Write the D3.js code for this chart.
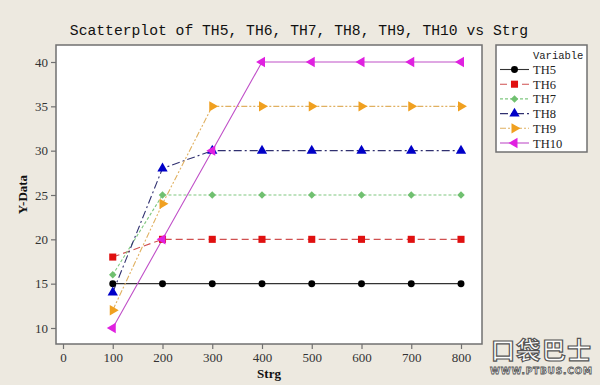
<!DOCTYPE html>
<html>
<head>
<meta charset="utf-8">
<script src="https://cdn.jsdelivr.net/npm/d3@7"></script>
<style>
  body { margin: 0; background: #ede9e0; }
  svg { display: block; }
</style>
</head>
<body>
<div id="chart"></div>
<script>
// data
const strg = [100, 200, 300, 400, 500, 600, 700, 800];
const th5  = [15, 15, 15, 15, 15, 15, 15, 15];
const th6  = [18, 20, 20, 20, 20, 20, 20, 20];
const th7  = [16, 25, 25, 25, 25, 25, 25, 25];
const th8  = [14, 28, 30, 30, 30, 30, 30, 30];
const th9  = [12, 24, 35, 35, 35, 35, 35, 35];
const th10 = [10, 20, 30, 40, 40, 40, 40, 40];
const xTicks = [0, 100, 200, 300, 400, 500, 600, 700, 800];
const yTicks = [10, 15, 20, 25, 30, 35, 40];

const series = [
    { name: "TH5",  values: th5,  color: "#000000", line: "#333333", dash: null,          symbol: "circle" },
    { name: "TH6",  values: th6,  color: "#e01010", line: "#d05050", dash: "7,4",         symbol: "square" },
    { name: "TH7",  values: th7,  color: "#70c070", line: "#80c880", dash: "3,2",         symbol: "diamond" },
    { name: "TH8",  values: th8,  color: "#0000c8", line: "#303070", dash: "8,3,2,3",     symbol: "up" },
    { name: "TH9",  values: th9,  color: "#f0a020", line: "#e0b060", dash: "6,2,2,2,2,2", symbol: "right" },
    { name: "TH10", values: th10, color: "#e020e0", line: "#c050c8", dash: null,          symbol: "left" }
];

const W = 600, H = 385;
const frame = { left: 56, top: 45, right: 482, bottom: 344 };

const svg = d3.select("#chart").append("svg")
    .attr("width", W)
    .attr("height", H);

svg.append("rect").attr("width", W).attr("height", H).attr("fill", "#ede9e0");

// scales
const x = d3.scaleLinear().domain([0, 800]).range([63, 461]);
const y = d3.scaleLinear().domain([10, 40]).range([328, 62]);

// title
svg.append("text")
    .attr("x", 299)
    .attr("y", 35)
    .attr("text-anchor", "middle")
    .style("font-family", "'Liberation Mono', monospace")
    .style("font-size", "14.7px")
    .attr("fill", "#111")
    .text("Scatterplot of TH5, TH6, TH7, TH8, TH9, TH10 vs Strg");

// plot area
svg.append("rect")
    .attr("x", frame.left)
    .attr("y", frame.top)
    .attr("width", frame.right - frame.left)
    .attr("height", frame.bottom - frame.top)
    .attr("fill", "#fff")
    .attr("stroke", "#707070")
    .attr("stroke-width", 1.5);

// axes
const xAxis = svg.append("g")
    .attr("transform", `translate(0,${frame.bottom})`)
    .call(d3.axisBottom(x).tickValues(xTicks).tickSize(5).tickPadding(4));
const yAxis = svg.append("g")
    .attr("transform", `translate(${frame.left},0)`)
    .call(d3.axisLeft(y).tickValues(yTicks).tickSize(5).tickPadding(3));

[xAxis, yAxis].forEach(g => {
    g.select(".domain").remove();
    g.selectAll("line").attr("stroke", "#707070").attr("stroke-width", 1.2);
    g.selectAll("text")
        .style("font-family", "'Liberation Serif', serif")
        .style("font-size", "13px")
        .attr("fill", "#333");
});

// axis labels
svg.append("text")
    .attr("x", 269)
    .attr("y", 378)
    .attr("text-anchor", "middle")
    .style("font-family", "'Liberation Serif', serif")
    .style("font-weight", "bold")
    .style("font-size", "13px")
    .attr("fill", "#111")
    .text("Strg");

svg.append("text")
    .attr("transform", `translate(27,${(frame.top + frame.bottom) / 2}) rotate(-90)`)
    .attr("text-anchor", "middle")
    .style("font-family", "'Liberation Serif', serif")
    .style("font-weight", "bold")
    .style("font-size", "13px")
    .attr("fill", "#111")
    .text("Y-Data");

// marker shapes
function markerPath(sym) {
    if (sym === "circle") return d3.symbol(d3.symbolCircle, 38)();
    if (sym === "square") return d3.symbol(d3.symbolSquare, 50)();
    if (sym === "diamond") return d3.symbol(d3.symbolSquare, 28)();
    return d3.symbol(d3.symbolTriangle, 46)();
}
function markerRotate(sym) {
    if (sym === "diamond") return 45;
    if (sym === "right") return 90;
    if (sym === "left") return -90;
    return 0;
}

const line = d3.line()
    .x((d, i) => x(strg[i]))
    .y(d => y(d));

// lines
series.forEach(s => {
    svg.append("path")
        .datum(s.values)
        .attr("fill", "none")
        .attr("stroke", s.line)
        .attr("stroke-width", 1.1)
        .attr("stroke-dasharray", s.dash)
        .attr("d", line);
});

// markers
series.forEach(s => {
    svg.append("g").selectAll("path")
        .data(s.values)
        .join("path")
        .attr("transform", (d, i) => `translate(${x(strg[i])},${y(d)}) rotate(${markerRotate(s.symbol)})`)
        .attr("d", markerPath(s.symbol))
        .attr("fill", s.color);
});

// legend
const legend = svg.append("g");
legend.append("rect")
    .attr("x", 496)
    .attr("y", 45)
    .attr("width", 91)
    .attr("height", 107)
    .attr("fill", "#fff")
    .attr("stroke", "#707070")
    .attr("stroke-width", 1.5);
legend.append("text")
    .attr("x", 533)
    .attr("y", 59)
    .style("font-family", "'Liberation Mono', monospace")
    .style("font-size", "10.5px")
    .attr("fill", "#222")
    .text("Variable");

series.forEach((s, i) => {
    const ly = 69.5 + i * 14.7;
    legend.append("line")
        .attr("x1", 500).attr("x2", 529)
        .attr("y1", ly).attr("y2", ly)
        .attr("stroke", s.line)
        .attr("stroke-width", 1.1)
        .attr("stroke-dasharray", s.dash);
    legend.append("path")
        .attr("transform", `translate(514.5,${ly}) rotate(${markerRotate(s.symbol)})`)
        .attr("d", markerPath(s.symbol))
        .attr("fill", s.color);
    legend.append("text")
        .attr("x", 533)
        .attr("y", ly + 4.5)
        .style("font-family", "'Liberation Serif', serif")
        .style("font-size", "12.5px")
        .attr("fill", "#222")
        .text(s.name);
});

// watermark
const wm = svg.append("g");
wm.append("text")
    .attr("x", 491)
    .attr("y", 359)
    .style("font-family", "'Noto Sans CJK SC', sans-serif")
    .style("font-weight", "bold")
    .style("font-size", "24px")
    .attr("fill", "#fff")
    .attr("stroke", "#555")
    .attr("stroke-width", 1.2)
    .attr("textLength", 100)
    .text("口袋巴士");
wm.append("text")
    .attr("x", 490)
    .attr("y", 374)
    .style("font-family", "'DejaVu Sans', sans-serif")
    .style("font-weight", "bold")
    .style("font-size", "9px")
    .attr("fill", "#fff")
    .attr("stroke", "#555")
    .attr("stroke-width", 0.8)
    .attr("textLength", 102)
    .text("WWW.PTBUS.COM");
</script>
</body>
</html>
